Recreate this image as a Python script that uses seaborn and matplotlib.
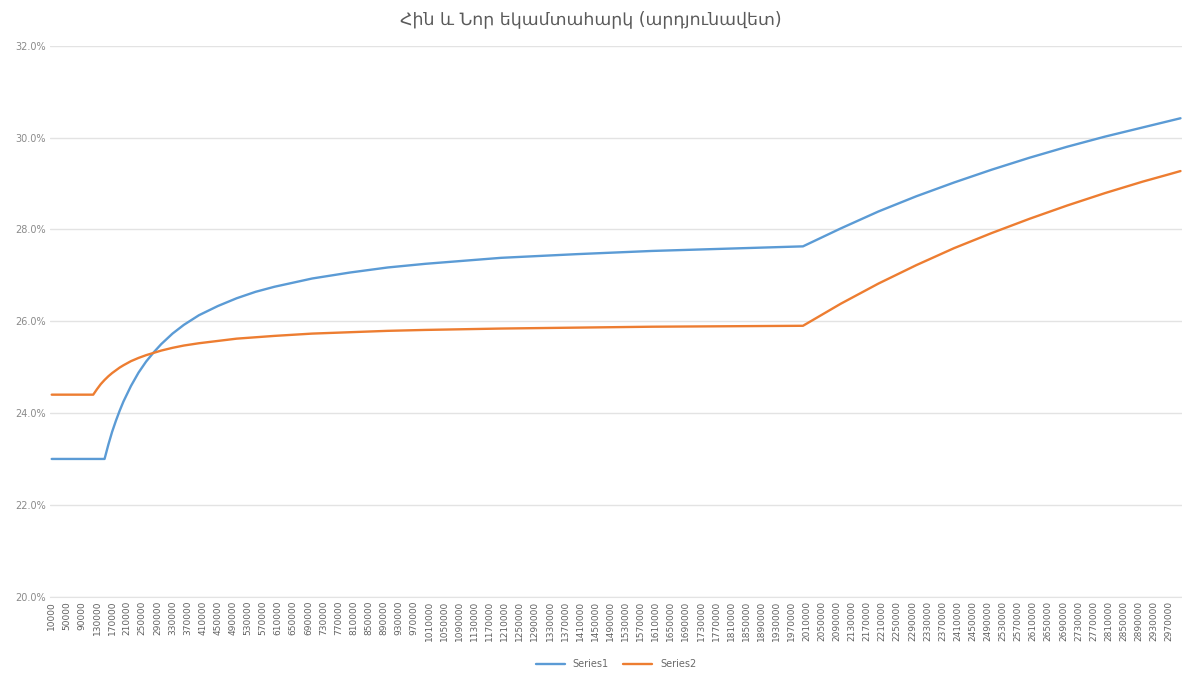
import matplotlib
matplotlib.use('Agg')
import matplotlib.pyplot as plt
import seaborn as sns
import pandas as pd

# Եկամուտ (դրամ) և արդյունավետ դրույքներ (%), կարդացված նկարից
income = [10000, 50000, 90000, 120000, 130000, 140000, 150000, 160000, 170000,
          180000, 190000, 200000, 220000, 240000, 260000, 280000, 300000,
          330000, 360000, 400000, 450000, 500000, 550000, 600000, 700000,
          800000, 900000, 1000000, 1200000, 1400000, 1600000, 1800000,
          2000000, 2100000, 2200000, 2300000, 2400000, 2500000, 2600000,
          2700000, 2800000, 2900000, 2970000, 3000000]
series1 = [23.00, 23.00, 23.00, 23.00, 23.00, 23.00, 23.00, 23.31, 23.59,
           23.83, 24.05, 24.25, 24.59, 24.88, 25.12, 25.32, 25.50,
           25.73, 25.92, 26.13, 26.33, 26.50, 26.64, 26.75, 26.93,
           27.06, 27.17, 27.25, 27.38, 27.46, 27.53, 27.58,
           27.63, 28.02, 28.39, 28.72, 29.02, 29.30, 29.56,
           29.80, 30.02, 30.22, 30.36, 30.42]
series2 = [24.40, 24.40, 24.40, 24.40, 24.52, 24.63, 24.72, 24.80, 24.87,
           24.93, 24.99, 25.04, 25.13, 25.20, 25.26, 25.31, 25.36,
           25.42, 25.47, 25.52, 25.57, 25.62, 25.65, 25.68, 25.73,
           25.76, 25.79, 25.81, 25.84, 25.86, 25.88, 25.89,
           25.90, 26.38, 26.82, 27.22, 27.59, 27.92, 28.23,
           28.52, 28.79, 29.04, 29.20, 29.27]

x_ticks = list(range(10000, 2970001, 40000))
y_ticks = [20, 22, 24, 26, 28, 30, 32]
title = 'Հին և Նոր եկամտահարկ (արդյունավետ)'

df = pd.concat([
    pd.DataFrame({'income': income, 'rate': series1, 'series': 'Series1'}),
    pd.DataFrame({'income': income, 'rate': series2, 'series': 'Series2'}),
])

sns.set_style('white')
plt.rcParams['font.family'] = ['DejaVu Sans', 'Noto Sans']

fig = plt.figure(figsize=(11.82, 6.73), dpi=100)
ax = fig.add_axes([50 / 1182, 1 - 596.7 / 673, 1132 / 1182, (596.7 - 45.7) / 673])

sns.lineplot(data=df, x='income', y='rate', hue='series',
             palette=['#5B9BD5', '#ED7D31'], linewidth=1.7, ax=ax)

ax.set_xlim(5500, 3004000)
ax.set_ylim(20, 32)
ax.set_yticks(y_ticks)
ax.set_yticklabels([f'{v:.1f}%' for v in y_ticks], fontsize=7, color='#8a8a8a')
ax.set_xticks(x_ticks)
ax.set_xticklabels([str(v) for v in x_ticks], rotation=90, fontsize=6.5,
                   color='#606060')
ax.tick_params(length=0, pad=3)
ax.grid(axis='y', color='#e3e3e3', linewidth=1)
ax.set_axisbelow(True)
for s in ['top', 'right', 'left']:
    ax.spines[s].set_visible(False)
ax.spines['bottom'].set_color('#e3e3e3')
ax.set_xlabel('')
ax.set_ylabel('')

fig.suptitle(title, y=0.985, fontsize=12.5, color='#5a5a5a')

handles, labels = ax.get_legend_handles_labels()
ax.legend(handles, labels, loc='center', bbox_to_anchor=(0.5, -0.122),
          ncol=2, frameon=False, fontsize=7, handlelength=3,
          labelcolor='#6a6a6a', columnspacing=1.5)

fig.savefig('out.png', dpi=100)
